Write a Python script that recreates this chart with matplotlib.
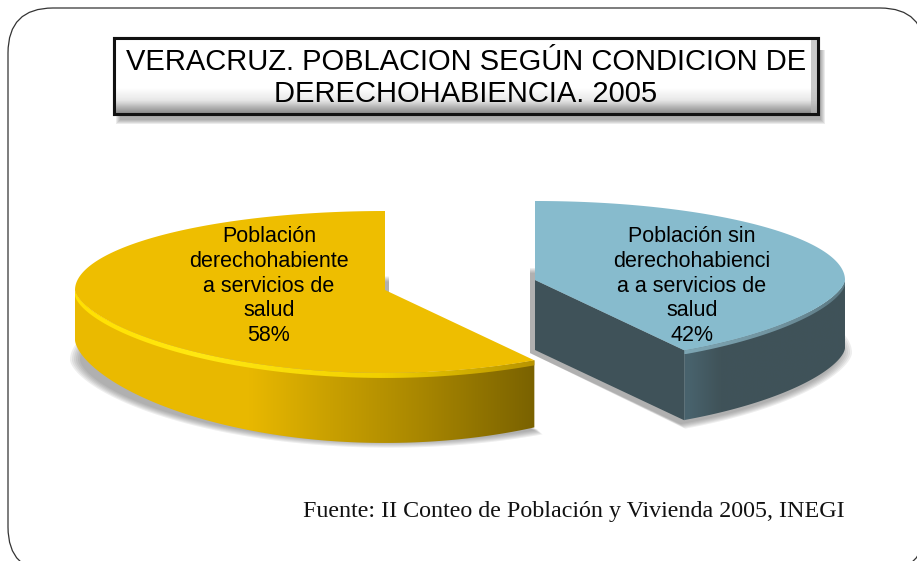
import numpy as np
import matplotlib
matplotlib.use('Agg')
import matplotlib.pyplot as plt
from matplotlib.colors import LinearSegmentedColormap
from matplotlib.patches import Polygon, FancyBboxPatch, Rectangle

# data
title = 'VERACRUZ. POBLACION SEGÚN CONDICION DE\nDERECHOHABIENCIA. 2005'
source = 'Fuente: II Conteo de Población y Vivienda 2005, INEGI'
names = ['Población\nderechohabiente\na servicios de\nsalud',
         'Población sin\nderechohabienci\na a servicios de\nsalud']
shares = [58, 42]

W, H = 917, 561
RX, RY, DEPTH = 310, 79, 70


def rim(cx, cy, a0, a1, rx=RX, ry=RY, n=240):
    # angles clockwise from 12 o'clock, in degrees. front half is a bit flatter at the sides
    a = np.radians(np.linspace(a0, a1, n))
    c = np.cos(a)
    off = np.where(c > 0, ry * c, -ry * 1.05 * np.abs(c) ** 1.25)
    return np.column_stack([cx + rx * np.sin(a), cy - off])


def grad_fill(ax, pts, xstops, colors, zorder):
    # horizontal gradient clipped to a polygon
    x0, x1 = xstops[0], xstops[-1]
    pos = [(x - x0) / (x1 - x0) for x in xstops]
    cmap = LinearSegmentedColormap.from_list('g', list(zip(pos, colors)))
    y0, y1 = pts[:, 1].min(), pts[:, 1].max()
    im = ax.imshow(np.linspace(0, 1, 512)[None, :], cmap=cmap, vmin=0, vmax=1,
                   extent=[x0, x1, y1, y0], aspect='auto', zorder=zorder,
                   interpolation='bilinear')
    clip = Polygon(pts, closed=True, transform=ax.transData, fc='none', ec='none')
    ax.add_patch(clip)
    im.set_clip_path(clip)


def shadow(ax, cx, cy, a0, a1, extra):
    # soft shadow from stacked transparent wedges
    for k in range(6):
        e = extra - 2.0 * k
        pts = np.vstack([[cx, cy], rim(cx, cy, a0, a1, RX + e, RY + e * 0.5)])
        ax.add_patch(Polygon(pts, closed=True, fc='#666666', ec='none', alpha=0.11, zorder=1))


def slice_3d(ax, cx, cy, a0, a1, top, edge_depth, bevel, wall_x, wall_c, band_x, band_c):
    front0, front1 = (90, a1) if a1 > 0 else (-90, a1)
    r = rim(cx, cy, front0, front1)
    c = np.abs(np.cos(np.radians(np.linspace(front0, front1, len(r)))))
    low = r.copy()
    low[:, 1] += edge_depth + (DEPTH - edge_depth) * c ** 1.2
    grad_fill(ax, np.vstack([r, low[::-1]]), wall_x, wall_c, 3)
    # bevel along the rim
    rb = r + [0, bevel]
    grad_fill(ax, np.vstack([r, rb[::-1]]), band_x, band_c, 4)
    pts = np.vstack([[cx, cy], rim(cx, cy, a0, a1)])
    ax.add_patch(Polygon(pts, closed=True, fc=top, ec='none', zorder=5))


fig = plt.figure(figsize=(W / 100, H / 100), dpi=100)
ax = fig.add_axes([0, 0, 1, 1])
ax.set_xlim(0, W)
ax.set_ylim(H, 0)
ax.set_autoscale_on(False)
ax.axis('off')

# rounded frame, runs off the right and bottom of the picture
ax.add_patch(FancyBboxPatch((53, 53), 827, 474, boxstyle='round,pad=45,rounding_size=45',
                            fc='white', ec='#333333', lw=0.9, zorder=0))

# angles come from the shares
sweep = [s / sum(shares) * 360 for s in shares]

# yellow slice, runs counter clockwise from the top
yc = (385, 290)
shadow(ax, yc[0] + 4, 360, 0, -sweep[0], 9)
slice_3d(ax, yc[0], yc[1], 0, -sweep[0], '#EEBE00', 50, 5,
         [70, 250, 330, 420, 535], ['#EBBB00', '#E8B800', '#C9A000', '#A98700', '#7A6200'],
         [70, 200, 380, 535], ['#FFE000', '#FFE812', '#F2D000', '#B89400'])

# blue slice, runs clockwise from the top
bc = (535, 280)
shadow(ax, bc[0] - 5, 353, 0, sweep[1], 12)
b_tip = rim(bc[0], bc[1], sweep[1], sweep[1], n=1)[0]
face = np.array([[bc[0], bc[1]], b_tip, b_tip + [0, DEPTH], [bc[0], bc[1] + DEPTH]])
ax.add_patch(Polygon(face, closed=True, fc='#3F5259', ec='none', zorder=3))
slice_3d(ax, bc[0], bc[1], 0, sweep[1], '#87BBCD', 68, 4,
         [675, 690, 720, 850], ['#4A6570', '#48626C', '#405359', '#3F5259'],
         [675, 780, 850], ['#7FA8B6', '#70929E', '#5A7680'])

# slice labels
label_xy = [(269, 286), (692, 286)]
for name, share, (lx, ly) in zip(names, shares, label_xy):
    ax.text(lx, ly, f'{name}\n{share}%', ha='center', va='center', fontsize=15.5,
            family='Liberation Sans', color='black', linespacing=1.22, zorder=6)

# title box
for k in range(5):
    ax.add_patch(Rectangle((120 - k, 50), 701 + 2 * k, 70 + k, fc='#444444', ec='none', alpha=0.1, zorder=1))
ax.add_patch(Rectangle((114, 38), 704, 76, fc='white', ec='#111111', lw=2.2, zorder=2))
ax.imshow(np.linspace(0, 1, 64)[:, None],
          cmap=LinearSegmentedColormap.from_list('b', ['#FFFFFF', '#FFFFFF', '#FFFFFF', '#FFFFFF', '#FFFFFF', '#E8E8E8', '#8E8E8E']),
          extent=[115, 817, 113, 39], aspect='auto', zorder=3)
ax.add_patch(Rectangle((811, 39), 6, 74, fc='#B5B5B5', ec='none', alpha=0.7, zorder=3))
ax.add_patch(Rectangle((114, 38), 704, 76, fc='none', ec='#111111', lw=2.2, zorder=4))
ax.text(466, 78, title, ha='center', va='center', fontsize=21, family='Liberation Sans',
        color='black', linespacing=1.2, zorder=6)

# source
ax.text(845, 511, source, ha='right', va='center', fontsize=17.3, family='Liberation Serif', color='#111111', zorder=6)

fig.savefig('out.png', dpi=100)
